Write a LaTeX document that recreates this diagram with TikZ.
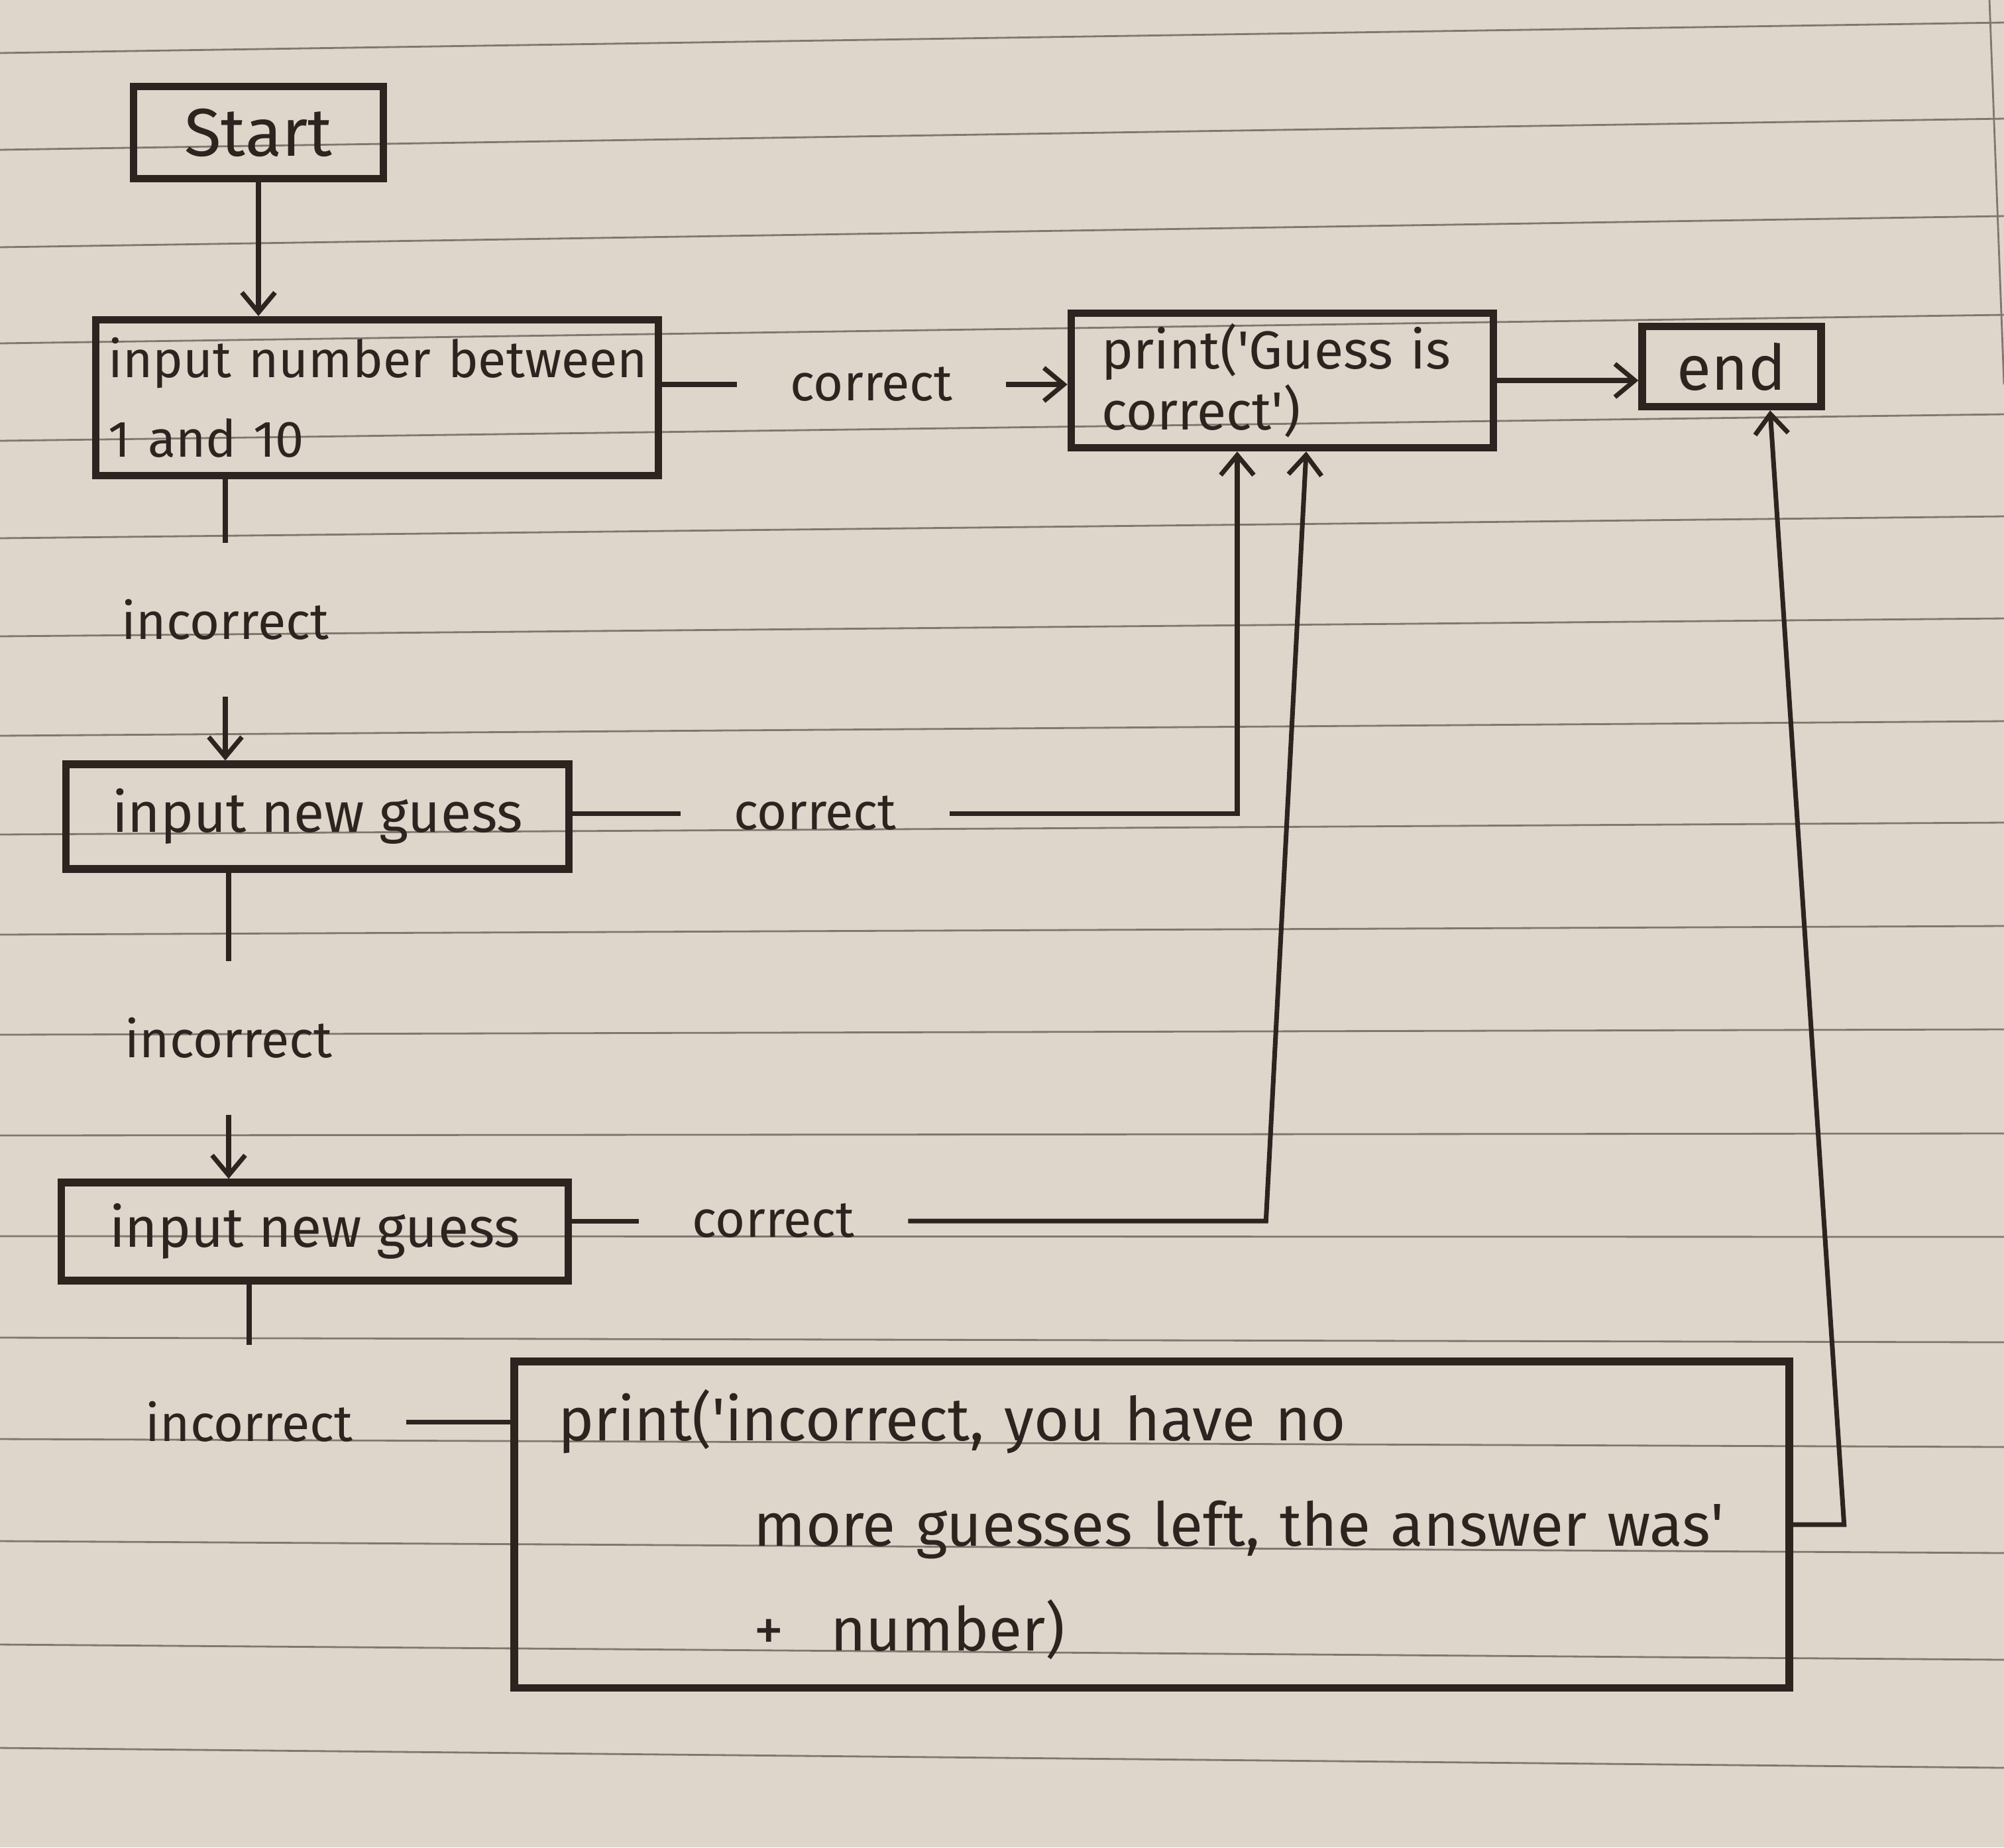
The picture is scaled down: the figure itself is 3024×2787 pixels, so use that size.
\documentclass[tikz,border=0pt]{standalone}
\usepackage{fontspec}
\setmainfont{Fira Sans}
\usetikzlibrary{arrows.meta}
\definecolor{paper}{RGB}{222,214,203}
\definecolor{ink}{RGB}{45,36,32}
\definecolor{rulegrey}{RGB}{128,120,111}

\begin{document}
\begin{tikzpicture}[x=0.01cm,y=-0.01cm,
	box/.style={draw=ink,line width=3.2pt,text=ink,font=\fontsize{24}{34}\selectfont},
	lbl/.style={text=ink,font=\fontsize{22}{26}\selectfont,inner xsep=0.8cm,inner ysep=0.85cm},
	link/.style={draw=ink,line width=2pt},
	arr/.style={link,-{Straight Barb[length=0.3cm,width=0.5cm]}},
	ruled/.style={draw=rulegrey,line width=0.8pt}]
		\useasboundingbox (0,0) rectangle (3024,2787);
		\fill[paper] (0,0) rectangle (3024,2787);
		
		\foreach \l/\r in {80/34,226/179,373/326,518/475,665/625,812/779,960/933,1110/1088,1259/1241,1410/1397,1561/1553,1713/1710,1865/1866,2018/2025,2171/2183,2325/2343,2481/2504,2637/2667}
			\draw[ruled] (0,\l) -- (3024,\r);
		\draw[ruled] (3002,0) -- (3024,580);
		
		\node[box,minimum width=3.77cm,minimum height=1.39cm,font=\fontsize{29}{34}\selectfont] (start) at (390,200) {Start};
		
		\node[box,minimum width=8.48cm,minimum height=2.35cm,inner xsep=0.19cm,text width=8.1cm,align=left,font=\fontsize{22}{34}\selectfont] (number) at (569,600) {\mbox{input number between}\\1 and 10};
		
		\node[box,minimum width=6.37cm,minimum height=2.03cm,inner xsep=0.46cm,text width=5.45cm,align=left,font=\fontsize{23}{26}\selectfont] (right) at (1935,574) {print(\textquotesingle Guess is\\correct\textquotesingle)};
		
		\node[box,minimum width=2.7cm,minimum height=1.21cm,font=\fontsize{27}{30}\selectfont] (end) at (2613,553) {end};
		
		\node[box,minimum width=7.58cm,minimum height=1.58cm] (guess1) at (479,1232) {input new guess};
		
		\node[box,minimum width=7.65cm,minimum height=1.48cm] (guess2) at (475,1858) {input new guess};
		
		\node[box,minimum width=19.23cm,minimum height=4.92cm,inner xsep=0.66cm,text width=17.9cm,align=left,font=\fontsize{26}{45}\selectfont] (wrong) at (1738,2300) {print(\textquotesingle incorrect, you have no\\\hspace*{2.95cm}more guesses left, the answer was\textquotesingle\\\hspace*{2.95cm}+\hspace{0.7cm}number)};
		
		\node[lbl] (ok1) at (1315,580) {correct};
		\node[lbl] (no1) at (340,935) {incorrect};
		\node[lbl] (ok2) at (1230,1227) {correct};
		\node[lbl] (no2) at (345,1566) {incorrect};
		\node[lbl] (ok3) at (1167,1842) {correct};
		\node[lbl] (no3) at (376,2145) {incorrect};
		
		\draw[arr] (start) -- (start |- number.north);
		\draw[link] (ok1.west -| number.east) -- (ok1.west);
		\draw[arr] (ok1.east) -- (ok1.east -| right.west);
		\draw[arr] (right.east) -- (right.east -| end.west);
		
		\draw[link] (no1.north |- number.south) -- (no1.north);
		\draw[arr] (no1.south) -- (no1.south |- guess1.north);
		\draw[link] (ok2.west -| guess1.east) -- (ok2.west);
		\draw[arr] (ok2.east) -| ([xshift=-0.68cm]right.south);
		
		\draw[link] (no2.north |- guess1.south) -- (no2.north);
		\draw[arr] (no2.south) -- (no2.south |- guess2.north);
		\draw[link] (ok3.west -| guess2.east) -- (ok3.west);
		\draw[arr] (ok3.east) -- ++(540,0) -- ([xshift=0.36cm]right.south);
		
		\draw[link] (no3.north |- guess2.south) -- (no3.north);
		\draw[link] (no3.east) -- (no3.east -| wrong.west);
		\draw[arr] (wrong.east) -- ++(77,0) -- ([xshift=0.58cm]end.south);
	\end{tikzpicture}
\end{document}
